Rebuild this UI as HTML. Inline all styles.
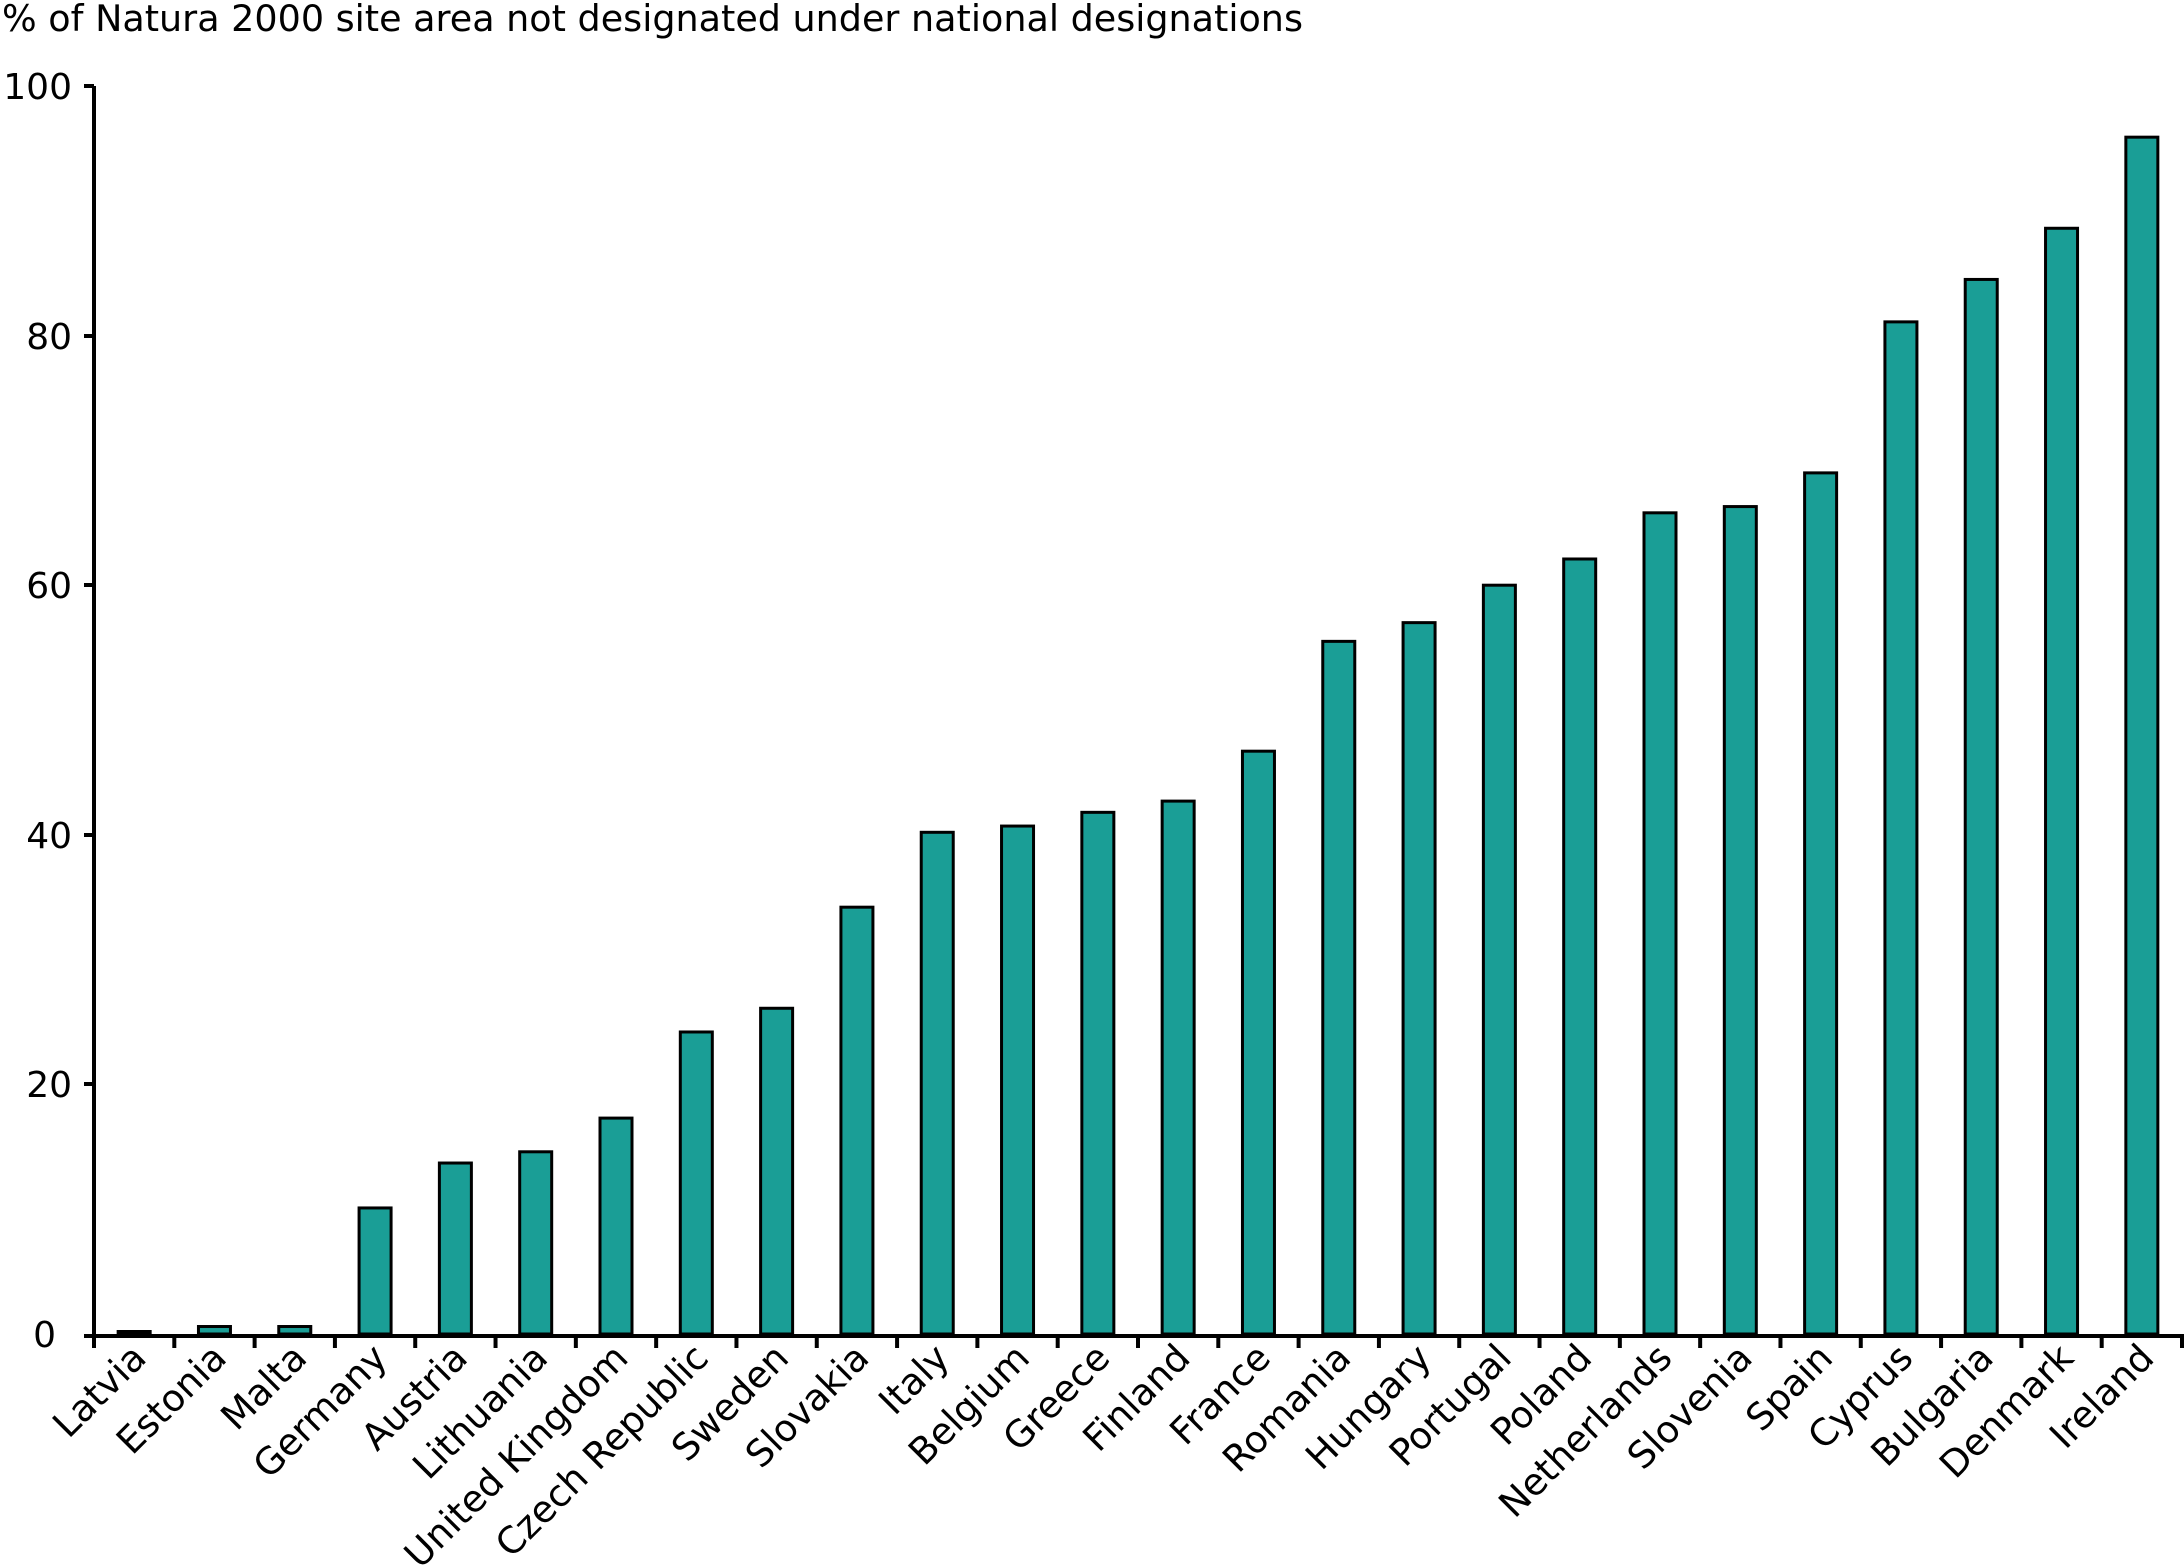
<!DOCTYPE html>
<html><head><meta charset="utf-8"><style>
html,body{margin:0;padding:0;background:#fff;}
svg{display:block;}
text{font-family:"DejaVu Sans","Liberation Sans",sans-serif;fill:#000;}
</style></head><body>
<svg width="2184" height="1566" viewBox="0 0 2184 1566" xmlns="http://www.w3.org/2000/svg">
<text x="2" y="31" font-size="36.5">% of Natura 2000 site area not designated under national designations</text>
<g font-size="36" text-anchor="end">
<text x="72" y="99">100</text>
<text x="72" y="349">80</text>
<text x="72" y="598">60</text>
<text x="72" y="848">40</text>
<text x="72" y="1097">20</text>
<text x="56" y="1347">0</text>
</g>
<g id="bars" fill="#1a9e96" stroke="#000" stroke-width="3"></g>
<g stroke="#000" stroke-width="4">
<line x1="94" y1="86" x2="94" y2="1348"/>
<line x1="84" y1="1336" x2="2184" y2="1336"/>
<line x1="84" y1="86" x2="94" y2="86"/>
<line x1="84" y1="336" x2="94" y2="336"/>
<line x1="84" y1="585" x2="94" y2="585"/>
<line x1="84" y1="835" x2="94" y2="835"/>
<line x1="84" y1="1084" x2="94" y2="1084"/>
</g>
<g id="ticks" stroke="#000" stroke-width="4"></g>
<g id="labels" font-size="37" text-anchor="end"></g>
</svg>
<script>
var names=["Latvia","Estonia","Malta","Germany","Austria","Lithuania","United Kingdom","Czech Republic","Sweden","Slovakia","Italy","Belgium","Greece","Finland","France","Romania","Hungary","Portugal","Poland","Netherlands","Slovenia","Spain","Cyprus","Bulgaria","Denmark","Ireland"];
var vals=[0.2,0.6,0.6,10.1,13.7,14.6,17.3,24.2,26.1,34.2,40.2,40.7,41.8,42.7,46.7,55.5,57,60,62.1,65.8,66.3,69,81.1,84.5,88.6,95.9];
var ns="http://www.w3.org/2000/svg";
var x0=94,w=(2182-94)/26,y0=1334,pu=12.48;
var b=document.getElementById("bars"),t=document.getElementById("ticks"),l=document.getElementById("labels");
for(var i=0;i<=26;i++){var ln=document.createElementNS(ns,"line");var x=x0+w*i;ln.setAttribute("x1",x);ln.setAttribute("x2",x);ln.setAttribute("y1",1336);ln.setAttribute("y2",1348);t.appendChild(ln);}
for(var i=0;i<names.length;i++){
var c=x0+w*(i+0.5);var h=vals[i]*pu;
var r=document.createElementNS(ns,"rect");r.setAttribute("x",c-16);r.setAttribute("width",32);r.setAttribute("y",y0-h);r.setAttribute("height",h);b.appendChild(r);
var tx=document.createElementNS(ns,"text");tx.setAttribute("transform","translate("+(c+14)+",1360) rotate(-45)");tx.textContent=names[i];l.appendChild(tx);}
</script>
</body></html>
